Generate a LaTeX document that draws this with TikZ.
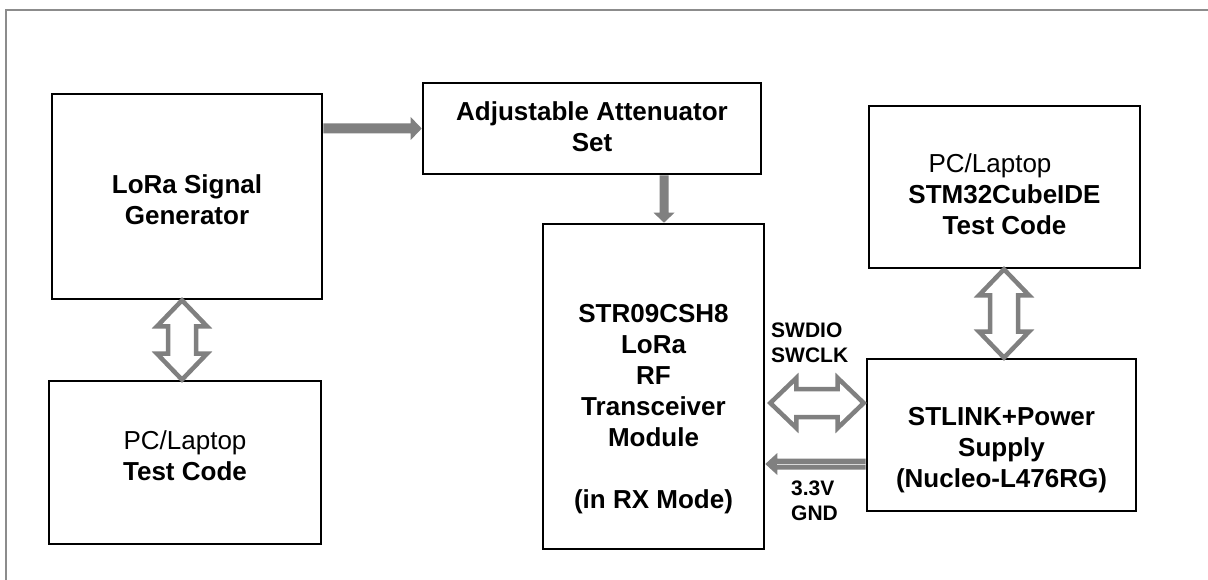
\documentclass[tikz,border=0pt]{standalone}
\usepackage{fontspec}
\setmainfont{Liberation Sans}
\usetikzlibrary{calc}
\definecolor{agray}{RGB}{128,128,128}
\definecolor{fgray}{RGB}{140,140,140}
\tikzset{
  box/.style={draw=black, line width=2.6pt, inner sep=0pt, fill=white},
  txt/.style={align=center, inner sep=0pt, font=\fontsize{26}{31}\selectfont\bfseries},
  lbl/.style={align=left, inner sep=0pt, anchor=west, font=\fontsize{21}{25}\selectfont\bfseries},
  dbl/.style={draw=agray, line width=4.5pt, fill=white, line join=miter},
  solidarrow/.style={fill=agray},
  frameline/.style={draw=fgray, line width=2pt}
}
\begin{document}
\begin{tikzpicture}[x=1pt,y=-1pt]
\useasboundingbox (0,0) rectangle (1208,580);
\fill[white] (0,0) rectangle (1208,580);
\draw[frameline] (6,580) -- (6,10) -- (1208,10);

% boxes
\node[box, minimum width=270pt, minimum height=205pt] (gen) at (187,196.5) {};
\node[box, minimum width=272pt, minimum height=163pt] (pc1) at (185,462.5) {};
\node[box, minimum width=338pt, minimum height=91pt]  (att) at (592,128.5) {};
\node[box, minimum width=221pt, minimum height=325pt] (str) at (653.5,386.5) {};
\node[box, minimum width=271pt, minimum height=162pt] (pc2) at (1004.5,187) {};
\node[box, minimum width=269pt, minimum height=152pt] (stl) at (1001.5,435) {};

% texts
\node[txt] (gentxt) at (187,199.5) {LoRa Signal\\Generator};
\node[txt] (pc1txt) at (185,456) {{\mdseries PC/Laptop}\\Test Code};
\node[txt] (atttxt) at (592,127) {Adjustable Attenuator\\Set};
\node[txt] (strtxt) at (653.5,409.5) {STR09CSH8\\LoRa\\RF\\Transceiver\\Module\\[31pt](in RX Mode)};
\node[txt] (pc2txt) at (1004.5,194.5) {{\mdseries PC/Laptop\hspace*{29pt}}\\STM32CubeIDE\\Test Code};
\node[txt] (stltxt) at (1001.5,450.5) {STLINK+Power\\Supply\\(Nucleo-L476RG)};

% labels
\node[lbl] (swd) at (771,342.5) {SWDIO\\SWCLK};
\node[lbl] (pwr) at (791,500.5) {3.3V\\GND};

% helper coordinates
\coordinate (c1) at (182,0);
\coordinate (c2) at (664,0);
\coordinate (c3) at (1004,0);
\coordinate (r1) at (0,403);
\coordinate (r2) at (0,464);

% solid arrow: generator -> attenuator
\fill[solidarrow] let \p1=(gen.east |- att.west), \p2=(att.west) in
  (\x1,\y1+5pt) -- (\x2-11pt,\y1+5pt) -- (\x2-11pt,\y1+11.5pt) -- (\x2,\y1)
  -- (\x2-11pt,\y1-11.5pt) -- (\x2-11pt,\y1-5pt) -- (\x1,\y1-5pt) -- cycle;

% solid arrow: attenuator -> module
\fill[solidarrow] let \p1=(att.south -| c2), \p2=(str.north -| c2) in
  (\x1-4.5pt,\y1) -- (\x1-4.5pt,\y2+10pt) -- (\x1-10.5pt,\y2+10pt) -- (\x1,\y2)
  -- (\x1+10.5pt,\y2+10pt) -- (\x1+4.5pt,\y2+10pt) -- (\x1+4.5pt,\y1) -- cycle;

% solid arrow: STLINK -> module (power)
\fill[solidarrow] let \p1=(stl.west |- r2), \p2=(str.east |- r2) in
  (\x1,\y1+5.5pt) -- (\x2+12pt,\y1+5.5pt) -- (\x2+12pt,\y1+11pt) -- (\x2,\y1)
  -- (\x2+12pt,\y1-11pt) -- (\x2+12pt,\y1-5.5pt) -- (\x1,\y1-5.5pt) -- cycle;
\draw[gray!30, line width=0.8pt] let \p1=(stl.west |- r2), \p2=(str.east |- r2) in
  (\x1,\y1) -- (\x2+12pt,\y1);

% double arrow: generator <-> PC
\draw[dbl] let \p1=(gen.south -| c1), \p2=(pc1.north -| c1) in
  (\x1,\y1) -- (\x1+25pt,\y1-26pt) -- (\x1+14pt,\y1-26pt) -- (\x1+14pt,\y2+26pt)
  -- (\x1+25pt,\y2+26pt) -- (\x1,\y2) -- (\x1-25pt,\y2+26pt) -- (\x1-14pt,\y2+26pt)
  -- (\x1-14pt,\y1-26pt) -- (\x1-25pt,\y1-26pt) -- cycle;

% double arrow: PC (STM32CubeIDE) <-> STLINK
\draw[dbl] let \p1=(pc2.south -| c3), \p2=(stl.north -| c3) in
  (\x1,\y1) -- (\x1+25pt,\y1-26pt) -- (\x1+14pt,\y1-26pt) -- (\x1+14pt,\y2+26pt)
  -- (\x1+25pt,\y2+26pt) -- (\x1,\y2) -- (\x1-25pt,\y2+26pt) -- (\x1-14pt,\y2+26pt)
  -- (\x1-14pt,\y1-26pt) -- (\x1-25pt,\y1-26pt) -- cycle;

% double arrow: module <-> STLINK (SWD)
\draw[dbl] let \p1=($(str.east |- r1)+(5,0)$), \p2=($(stl.west |- r1)+(-2,0)$) in
  (\x1,\y1) -- (\x1+26pt,\y1+25pt) -- (\x1+26pt,\y1+14pt) -- (\x2-26pt,\y1+14pt)
  -- (\x2-26pt,\y1+25pt) -- (\x2,\y1) -- (\x2-26pt,\y1-25pt) -- (\x2-26pt,\y1-14pt)
  -- (\x1+26pt,\y1-14pt) -- (\x1+26pt,\y1-25pt) -- cycle;
\end{tikzpicture}
\end{document}
